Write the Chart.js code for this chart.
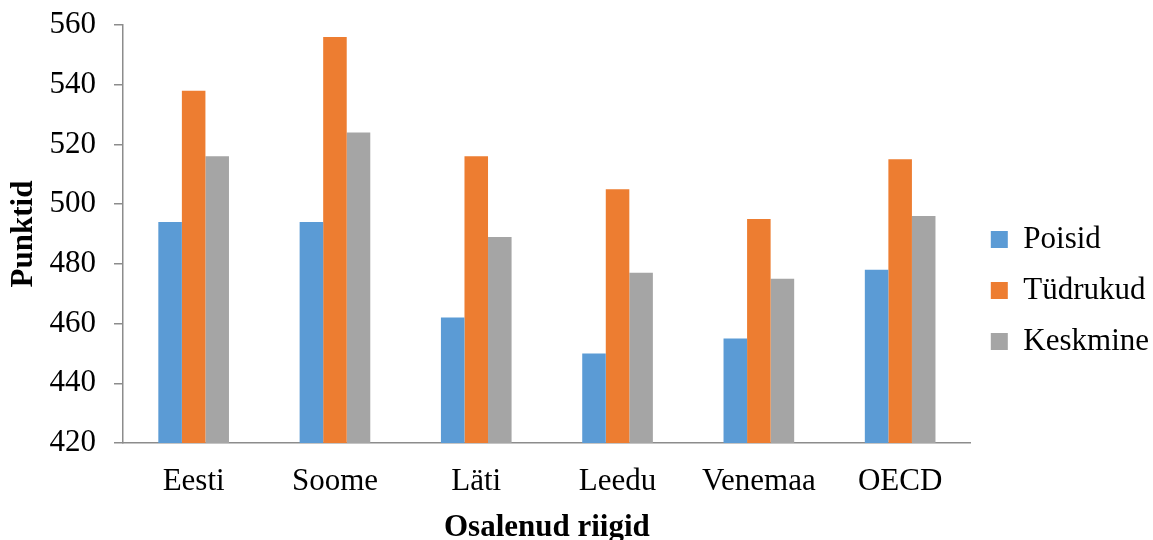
<!DOCTYPE html>
<html>
<head>
<meta charset="utf-8">
<script src="https://cdn.jsdelivr.net/npm/chart.js@4"></script>
<style>
  html, body { margin: 0; padding: 0; background: #fff; }
  #wrap { width: 1153px; height: 540px; }
</style>
</head>
<body>
<div id="wrap"><canvas id="chart" width="1153" height="540"></canvas></div>
<script>
// values
const countries = ['Eesti', 'Soome', 'Läti', 'Leedu', 'Venemaa', 'OECD'];
const poisid = [494, 494, 462, 450, 455, 478];
const tydrukud = [538, 556, 516, 505, 495, 515];
const keskmine = [516, 524, 489, 477, 475, 496];
const yMin = 420;
const yMax = 560;
const yStep = 20;

const serif = '"Liberation Serif", "Times New Roman", serif';
const axisGray = '#8c8c8c';
const fontSize = 31;

function barSet(label, data, color) {
  return {
    label: label,
    data: data,
    backgroundColor: color,
    borderWidth: 0,
    barPercentage: 1,
    categoryPercentage: 0.5
  };
}

new Chart(document.getElementById('chart').getContext('2d'), {
  type: 'bar',
  data: {
    labels: countries,
    datasets: [
      barSet('Poisid', poisid, '#5B9BD5'),
      barSet('Tüdrukud', tydrukud, '#ED7D31'),
      barSet('Keskmine', keskmine, '#A5A5A5')
    ]
  },
  options: {
    responsive: false,
    animation: false,
    layout: { padding: { top: 25, right: -6, bottom: 0, left: 0 } },
    scales: {
      x: {
        grid: { display: true, drawOnChartArea: false, drawTicks: false },
        border: { display: true, color: axisGray, width: 1.5 },
        ticks: { color: '#000', padding: 20, font: { family: serif, size: fontSize } },
        title: {
          display: true,
          text: 'Osalenud riigid',
          color: '#000',
          padding: { top: 4, bottom: -7 },
          font: { family: serif, size: fontSize, weight: 'bold' }
        },
        afterFit: function(scale) { scale.height = 97; }
      },
      y: {
        min: yMin,
        max: yMax,
        grid: { display: true, drawOnChartArea: false, drawTicks: true, tickLength: 9, color: axisGray, lineWidth: 1.5 },
        border: { display: true, color: axisGray, width: 1.5 },
        ticks: { stepSize: yStep, color: '#000', padding: 18, font: { family: serif, size: fontSize } },
        title: {
          display: true,
          text: 'Punktid',
          color: '#000',
          padding: { top: 5, bottom: 4 },
          font: { family: serif, size: fontSize, weight: 'bold' }
        },
        afterFit: function(scale) {
          scale.width = 123;
          scale.paddingTop = 0;
          scale.paddingBottom = 0;
        }
      }
    },
    plugins: {
      legend: {
        position: 'right',
        align: 'center',
        title: { display: true, text: ' ', padding: 2, font: { size: 10 } },
        labels: {
          color: '#000',
          boxWidth: 17,
          boxHeight: 17,
          padding: 20,
          font: { family: serif, size: fontSize }
        }
      },
      tooltip: { enabled: false }
    }
  }
});
</script>
</body>
</html>
